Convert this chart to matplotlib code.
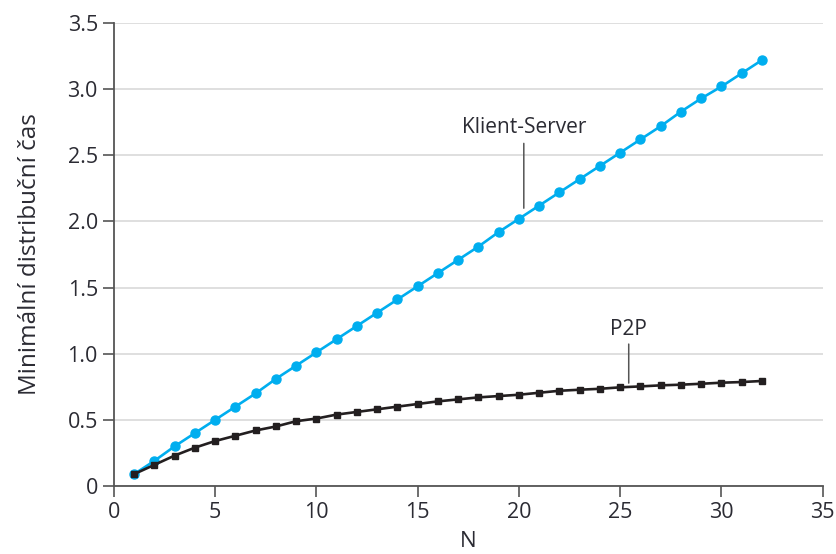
import numpy as np
import matplotlib
matplotlib.use("Agg")
from matplotlib import pyplot as plt

plt.rcParams['font.family'] = ['Open Sans', 'DejaVu Sans']

n = list(range(1, 33))
klient_server = [0.09, 0.19, 0.30, 0.40, 0.50, 0.60, 0.70, 0.81, 0.91, 1.01,
                 1.11, 1.21, 1.31, 1.41, 1.51, 1.61, 1.71, 1.81, 1.92, 2.02,
                 2.12, 2.22, 2.32, 2.42, 2.52, 2.62, 2.72, 2.83, 2.93, 3.02,
                 3.12, 3.22]
p2p = [0.09, 0.16, 0.23, 0.29, 0.34, 0.38, 0.42, 0.45, 0.49, 0.51,
       0.54, 0.56, 0.58, 0.60, 0.62, 0.64, 0.655, 0.67, 0.68, 0.69,
       0.705, 0.72, 0.728, 0.735, 0.746, 0.753, 0.761, 0.766, 0.773, 0.781,
       0.786, 0.794]

blue = '#00aeef'
dark = '#231f20'
txt = '#2b2b33'

fig = plt.figure(figsize=(8.37, 5.54), dpi=100)
ax = fig.add_axes([0.136, 0.1227, 0.847, 0.8358])

ax.plot(n, klient_server, '-o', color=blue, lw=1.9, ms=6.5, zorder=3)
ax.plot(n, p2p, '-s', color=dark, lw=1.9, ms=5, zorder=3)

ax.set_xlim(0, 35)
ax.set_ylim(0, 3.5)
ax.set_xticks(range(0, 36, 5))
ax.set_yticks([0, 0.5, 1.0, 1.5, 2.0, 2.5, 3.0, 3.5])
ax.set_yticklabels(['0', '0.5', '1.0', '1.5', '2.0', '2.5', '3.0', '3.5'])
ax.grid(axis='y', color='#d9d9d9', lw=1.2, zorder=0)
ax.set_axisbelow(True)

for s in ['top', 'right']:
    ax.spines[s].set_visible(False)
for s in ['left', 'bottom']:
    ax.spines[s].set_color('#555555')
    ax.spines[s].set_linewidth(1.3)
ax.tick_params(colors='#555555', labelcolor=txt, labelsize=15.5, length=8, width=1.2)

ax.set_xlabel('N', fontsize=16, color=txt, labelpad=6)
ax.set_ylabel('Minimální distribuční čas', fontsize=17.5, color=txt, labelpad=18)

# popisky krivek
ax.text(20.24, 2.668, 'Klient-Server', ha='center', va='baseline',
        fontsize=15, color=txt)
ax.annotate('', xy=(20.24, 2.10), xytext=(20.24, 2.59),
            arrowprops=dict(arrowstyle='-', color='#555555', lw=1.1,
                            shrinkA=0, shrinkB=0))
ax.text(25.42, 1.141, 'P2P', ha='center', va='baseline',
        fontsize=15, color=txt)
ax.annotate('', xy=(25.42, 0.778), xytext=(25.42, 1.073),
            arrowprops=dict(arrowstyle='-', color='#555555', lw=1.1,
                            shrinkA=0, shrinkB=0))

plt.savefig('out.png', dpi=100)
